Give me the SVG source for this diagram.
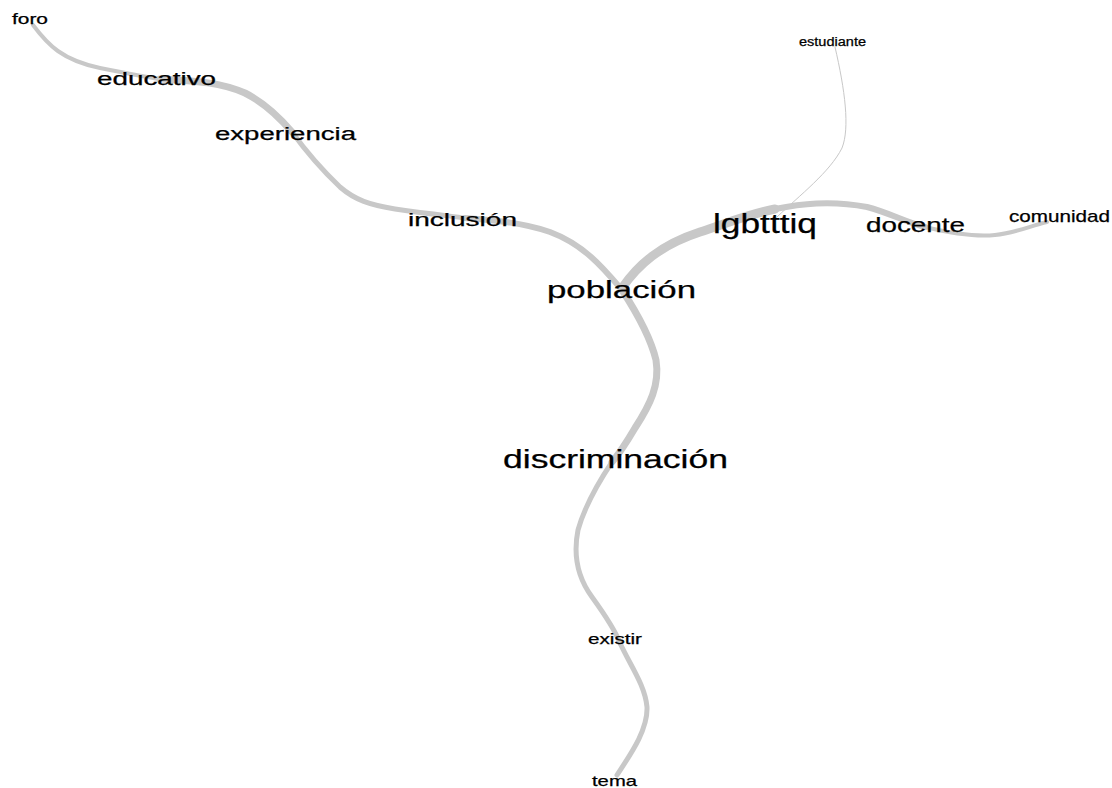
<svg xmlns="http://www.w3.org/2000/svg" width="1112" height="788" viewBox="0 0 1112 788">
<style>
.e{fill:none;stroke:#c8c8c8;stroke-linecap:round}
text{font-family:"Liberation Sans",Arial,sans-serif;fill:#000;stroke:#000;stroke-width:0.25;text-anchor:middle}
</style>
<rect width="1112" height="788" fill="#fff"/>
<g id="connectors">
<path class="e" stroke-width="4" d="M33,25 C48,45 62,60 100,68 C125,73 145,77 160,79"/>
<path class="e" stroke-width="7" d="M160,79 C195,81 220,82 245,93 C265,103 280,118 292,132"/>
<path class="e" stroke-width="5" d="M292,132 C305,150 320,168 340,187 C355,200 370,205 395,209 C430,214 450,216 465,218"/>
<path class="e" stroke-width="6" d="M465,218 C490,220 520,222 550,232 C585,245 605,270 622,290"/>
<path class="e" stroke-width="7" d="M622,290 C635,310 650,335 656,360 C660,385 650,405 635,428 C625,445 618,455 612,462"/>
<path class="e" stroke-width="5" d="M612,462 C600,480 585,505 578,530 C573,555 578,578 592,597 C605,615 615,630 620,643"/>
<path class="e" stroke-width="5" d="M620,643 C630,665 645,685 647,707 C648,730 630,755 617,775"/>
<path class="e" stroke-width="9" d="M622,288 C638,265 660,245 700,232 C725,224 745,215 775,209"/>
<path class="e" stroke-width="6" d="M775,209 C800,204 830,200 867,207 C890,213 905,222 925,227"/>
<path class="e" stroke-width="4" d="M925,227 C950,233 975,237 995,235 C1015,233 1030,226 1047,222"/>
<path class="e" stroke-width="1" d="M777,217 C800,195 830,172 842,148 C850,128 845,90 835,47"/>
</g>
<g id="n-foro"><text x="30" y="24" font-size="15" textLength="36" lengthAdjust="spacingAndGlyphs">foro</text></g>
<g id="n-educativo"><text x="156.5" y="85" font-size="18" textLength="119" lengthAdjust="spacingAndGlyphs">educativo</text></g>
<g id="n-experiencia"><text x="285.5" y="140" font-size="18" textLength="141" lengthAdjust="spacingAndGlyphs">experiencia</text></g>
<g id="n-inclusion"><text x="462.5" y="226" font-size="18" textLength="109" lengthAdjust="spacingAndGlyphs">inclusión</text></g>
<g id="n-poblacion"><text x="621.5" y="298" font-size="23" textLength="149" lengthAdjust="spacingAndGlyphs">población</text></g>
<g id="n-lgbtttiq"><text x="765" y="233" font-size="27" textLength="104" lengthAdjust="spacingAndGlyphs">lgbtttiq</text></g>
<g id="n-docente"><text x="915.5" y="232" font-size="21" textLength="99" lengthAdjust="spacingAndGlyphs">docente</text></g>
<g id="n-comunidad"><text x="1059.5" y="222" font-size="17" textLength="101" lengthAdjust="spacingAndGlyphs">comunidad</text></g>
<g id="n-estudiante"><text x="832.5" y="46" font-size="12" textLength="67" lengthAdjust="spacingAndGlyphs">estudiante</text></g>
<g id="n-discriminacion"><text x="615.5" y="468" font-size="25" textLength="225" lengthAdjust="spacingAndGlyphs">discriminación</text></g>
<g id="n-existir"><text x="615" y="644" font-size="15" textLength="54" lengthAdjust="spacingAndGlyphs">existir</text></g>
<g id="n-tema"><text x="614.5" y="786" font-size="15" textLength="45" lengthAdjust="spacingAndGlyphs">tema</text></g>
</svg>
